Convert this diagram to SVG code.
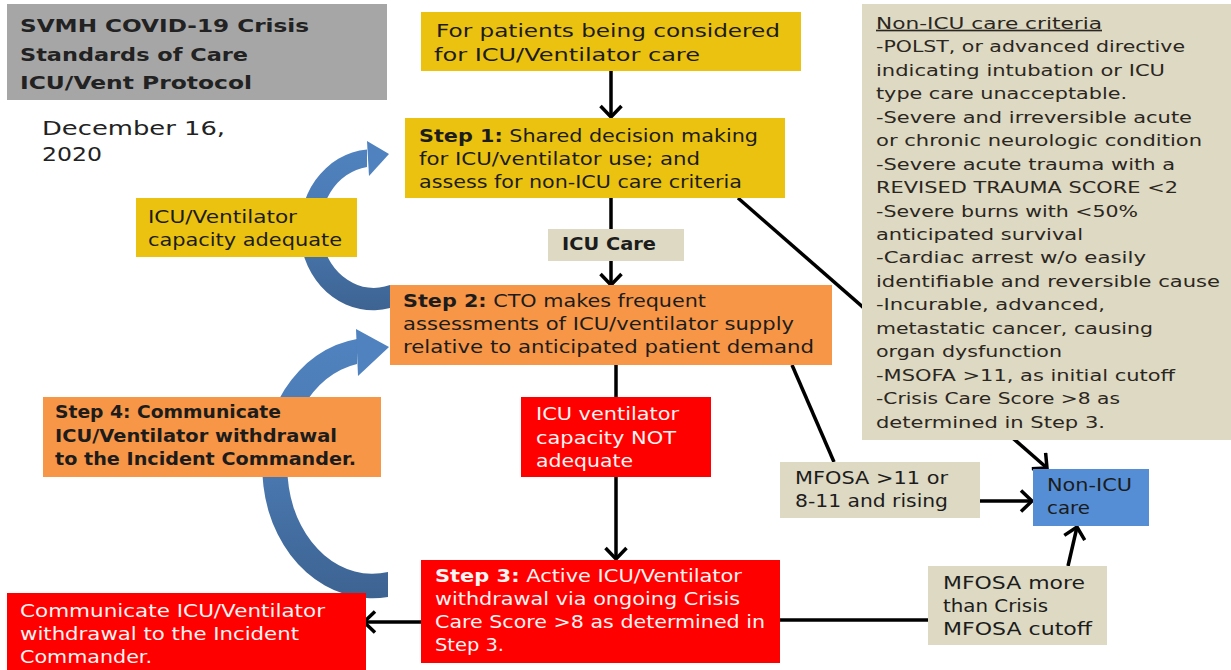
<svg xmlns="http://www.w3.org/2000/svg" width="1231" height="670" viewBox="0 0 1231 670">
<style>
text{font-family:"DejaVu Sans","Liberation Sans",sans-serif;font-size:17px;fill:#1c1c1c}
.b{font-weight:bold}
.w{fill:#fff4f4}
.t{font-size:18.5px;font-weight:bold;fill:#222}
.d{font-size:19.5px;fill:#222}
.c{font-size:16.5px;fill:#2b2620}
.ln{stroke:#000;stroke-width:3.5;fill:none}
.arr{marker-end:url(#ah)}
.yel{fill:#ebc20f}
.org{fill:#f79646}
.red{fill:#ff0000}
.bei{fill:#ddd9c3}
</style>
<defs>
<marker id="ah" markerUnits="userSpaceOnUse" viewBox="0 0 24 24" refX="20" refY="12" markerWidth="24" markerHeight="24" orient="auto">
<path d="M9,1.5 L20,12 L9,22.5" fill="none" stroke="#000" stroke-width="3.5"/>
</marker>
<linearGradient id="bg1" gradientUnits="userSpaceOnUse" x1="0" y1="140" x2="0" y2="312">
<stop offset="0" stop-color="#5083c0"/><stop offset="0.5" stop-color="#4a79b2"/><stop offset="1" stop-color="#3d6391"/>
</linearGradient>
<linearGradient id="bg2" gradientUnits="userSpaceOnUse" x1="0" y1="328" x2="0" y2="598">
<stop offset="0" stop-color="#5083c0"/><stop offset="0.5" stop-color="#4a79b2"/><stop offset="1" stop-color="#3d6391"/>
</linearGradient>
</defs>
<rect width="1231" height="670" fill="#fff"/>

<g id="loop-arrows">
<path d="M390,308 A73,80.5 0 1 1 367,149.5 L367,167 A53,60.7 0 1 0 390,285 Z" fill="url(#bg1)"/>
<polygon points="367,141 389,154 369,176" fill="#4f82bf"/>
<path d="M388,597 A110,130.2 0 1 1 357,339 L357,364 A85,105.7 0 1 0 388,572 Z" fill="url(#bg2)"/>
<polygon points="356,329 389,347 358,376" fill="#4f82bf"/>
</g>

<g id="connectors">
<line class="ln arr" x1="611" y1="71" x2="611" y2="117"/>
<line class="ln" x1="611" y1="198" x2="611" y2="229"/>
<line class="ln arr" x1="611" y1="261" x2="611" y2="285"/>
<line class="ln" x1="738" y1="198" x2="1047" y2="468" marker-end="url(#ah)"/>
<line class="ln" x1="616" y1="365" x2="616" y2="398"/>
<line class="ln arr" x1="616" y1="477" x2="616" y2="559"/>
<line class="ln" x1="792" y1="365" x2="834" y2="462"/>
<line class="ln arr" x1="980" y1="501" x2="1032" y2="501"/>
<line class="ln arr" x1="421" y1="622" x2="364" y2="622"/>
<line class="ln" x1="780" y1="620" x2="928" y2="620"/>
<line class="ln arr" x1="1068" y1="566" x2="1077" y2="527"/>
</g>

<g id="title">
<rect x="7" y="4" width="380" height="96" fill="#a6a6a6"/>
<text class="t" x="20" y="32" textLength="289" lengthAdjust="spacingAndGlyphs">SVMH COVID-19 Crisis</text>
<text class="t" x="20" y="61" textLength="228" lengthAdjust="spacingAndGlyphs">Standards of Care</text>
<text class="t" x="20" y="89" textLength="232" lengthAdjust="spacingAndGlyphs">ICU/Vent Protocol</text>
</g>

<g id="date">
<text class="d" x="42" y="135" textLength="183" lengthAdjust="spacingAndGlyphs">December 16,</text>
<text class="d" x="42" y="161" textLength="60" lengthAdjust="spacingAndGlyphs">2020</text>
</g>

<g id="start">
<rect class="yel" x="421" y="12" width="380" height="59"/>
<text x="436" y="37" style="font-size:18px" textLength="344" lengthAdjust="spacingAndGlyphs">For patients being considered</text>
<text x="434" y="61" style="font-size:18px" textLength="266" lengthAdjust="spacingAndGlyphs">for ICU/Ventilator care</text>
</g>

<g id="step1">
<rect class="yel" x="405" y="118" width="380" height="80"/>
<text x="419" y="142" textLength="339" lengthAdjust="spacingAndGlyphs"><tspan class="b">Step 1:</tspan> Shared decision making</text>
<text x="419" y="165" textLength="281" lengthAdjust="spacingAndGlyphs">for ICU/ventilator use; and</text>
<text x="419" y="188" textLength="323" lengthAdjust="spacingAndGlyphs">assess for non-ICU care criteria</text>
</g>

<g id="icu-care">
<rect class="bei" x="548" y="229" width="136" height="32"/>
<text class="b" x="562" y="250" textLength="94" lengthAdjust="spacingAndGlyphs">ICU Care</text>
</g>

<g id="step2">
<rect class="org" x="390" y="285" width="442" height="80"/>
<text x="403" y="307" textLength="303" lengthAdjust="spacingAndGlyphs"><tspan class="b">Step 2:</tspan> CTO makes frequent</text>
<text x="403" y="330" textLength="391" lengthAdjust="spacingAndGlyphs">assessments of ICU/ventilator supply</text>
<text x="403" y="353" textLength="411" lengthAdjust="spacingAndGlyphs">relative to anticipated patient demand</text>
</g>

<g id="capacity-adequate">
<rect class="yel" x="136" y="198" width="221" height="59"/>
<text x="148" y="223" textLength="149" lengthAdjust="spacingAndGlyphs">ICU/Ventilator</text>
<text x="148" y="246" textLength="194" lengthAdjust="spacingAndGlyphs">capacity adequate</text>
</g>

<g id="step4">
<rect class="org" x="43" y="397" width="338" height="80"/>
<text class="b" x="55" y="418" textLength="226" lengthAdjust="spacingAndGlyphs">Step 4: Communicate</text>
<text class="b" x="55" y="442" textLength="282" lengthAdjust="spacingAndGlyphs">ICU/Ventilator withdrawal</text>
<text class="b" x="55" y="465" textLength="301" lengthAdjust="spacingAndGlyphs">to the Incident Commander.</text>
</g>

<g id="capacity-not-adequate">
<rect class="red" x="521" y="397" width="190" height="80"/>
<text class="w" x="536" y="420" textLength="143" lengthAdjust="spacingAndGlyphs">ICU ventilator</text>
<text class="w" x="536" y="444" textLength="140" lengthAdjust="spacingAndGlyphs">capacity NOT</text>
<text class="w" x="536" y="467" textLength="97" lengthAdjust="spacingAndGlyphs">adequate</text>
</g>

<g id="step3">
<rect class="red" x="421" y="560" width="359" height="103"/>
<text class="w" x="435" y="582" textLength="307" lengthAdjust="spacingAndGlyphs"><tspan class="b w">Step 3:</tspan> Active ICU/Ventilator</text>
<text class="w" x="435" y="605" textLength="305" lengthAdjust="spacingAndGlyphs">withdrawal via ongoing Crisis</text>
<text class="w" x="435" y="628" textLength="330" lengthAdjust="spacingAndGlyphs">Care Score &gt;8 as determined in</text>
<text class="w" x="435" y="651" textLength="69" lengthAdjust="spacingAndGlyphs">Step 3.</text>
</g>

<g id="communicate">
<rect class="red" x="7" y="593" width="359" height="77"/>
<text class="w" x="20" y="617" textLength="305" lengthAdjust="spacingAndGlyphs">Communicate ICU/Ventilator</text>
<text class="w" x="20" y="640" textLength="279" lengthAdjust="spacingAndGlyphs">withdrawal to the Incident</text>
<text class="w" x="20" y="663" textLength="132" lengthAdjust="spacingAndGlyphs">Commander.</text>
</g>

<g id="criteria">
<rect class="bei" x="862" y="4" width="369" height="436"/>
<text class="c" x="876" y="28.7" textLength="226" lengthAdjust="spacingAndGlyphs" text-decoration="underline">Non-ICU care criteria</text>
<text class="c" x="876" y="52.2" textLength="309" lengthAdjust="spacingAndGlyphs">-POLST, or advanced directive</text>
<text class="c" x="876" y="75.6" textLength="289" lengthAdjust="spacingAndGlyphs">indicating intubation or ICU</text>
<text class="c" x="876" y="99.1" textLength="251" lengthAdjust="spacingAndGlyphs">type care unacceptable.</text>
<text class="c" x="876" y="122.6" textLength="316" lengthAdjust="spacingAndGlyphs">-Severe and irreversible acute</text>
<text class="c" x="876" y="146.1" textLength="326" lengthAdjust="spacingAndGlyphs">or chronic neurologic condition</text>
<text class="c" x="876" y="169.5" textLength="299" lengthAdjust="spacingAndGlyphs">-Severe acute trauma with a</text>
<text class="c" x="876" y="193.0" textLength="302" lengthAdjust="spacingAndGlyphs">REVISED TRAUMA SCORE &lt;2</text>
<text class="c" x="876" y="216.5" textLength="262" lengthAdjust="spacingAndGlyphs">-Severe burns with &lt;50%</text>
<text class="c" x="876" y="239.9" textLength="207" lengthAdjust="spacingAndGlyphs">anticipated survival</text>
<text class="c" x="876" y="263.4" textLength="270" lengthAdjust="spacingAndGlyphs">-Cardiac arrest w/o easily</text>
<text class="c" x="876" y="286.9" textLength="344" lengthAdjust="spacingAndGlyphs">identifiable and reversible cause</text>
<text class="c" x="876" y="310.3" textLength="229" lengthAdjust="spacingAndGlyphs">-Incurable, advanced,</text>
<text class="c" x="876" y="333.8" textLength="277" lengthAdjust="spacingAndGlyphs">metastatic cancer, causing</text>
<text class="c" x="876" y="357.3" textLength="186" lengthAdjust="spacingAndGlyphs">organ dysfunction</text>
<text class="c" x="876" y="380.8" textLength="299" lengthAdjust="spacingAndGlyphs">-MSOFA &gt;11, as initial cutoff</text>
<text class="c" x="876" y="404.2" textLength="244" lengthAdjust="spacingAndGlyphs">-Crisis Care Score &gt;8 as</text>
<text class="c" x="876" y="427.7" textLength="229" lengthAdjust="spacingAndGlyphs">determined in Step 3.</text>
</g>

<g id="mfosa-rising">
<rect class="bei" x="780" y="462" width="200" height="56"/>
<text x="795" y="484" textLength="153" lengthAdjust="spacingAndGlyphs">MFOSA &gt;11 or</text>
<text x="795" y="507" textLength="153" lengthAdjust="spacingAndGlyphs">8-11 and rising</text>
</g>

<g id="non-icu-care">
<rect x="1033" y="469" width="116" height="57" fill="#558ed5"/>
<text x="1047" y="491" textLength="85" lengthAdjust="spacingAndGlyphs">Non-ICU</text>
<text x="1047" y="514" textLength="43" lengthAdjust="spacingAndGlyphs">care</text>
</g>

<g id="mfosa-cutoff">
<rect class="bei" x="928" y="566" width="179" height="79"/>
<text x="943" y="589" textLength="142" lengthAdjust="spacingAndGlyphs">MFOSA more</text>
<text x="943" y="612" textLength="105" lengthAdjust="spacingAndGlyphs">than Crisis</text>
<text x="943" y="635" textLength="149" lengthAdjust="spacingAndGlyphs">MFOSA cutoff</text>
</g>
</svg>
